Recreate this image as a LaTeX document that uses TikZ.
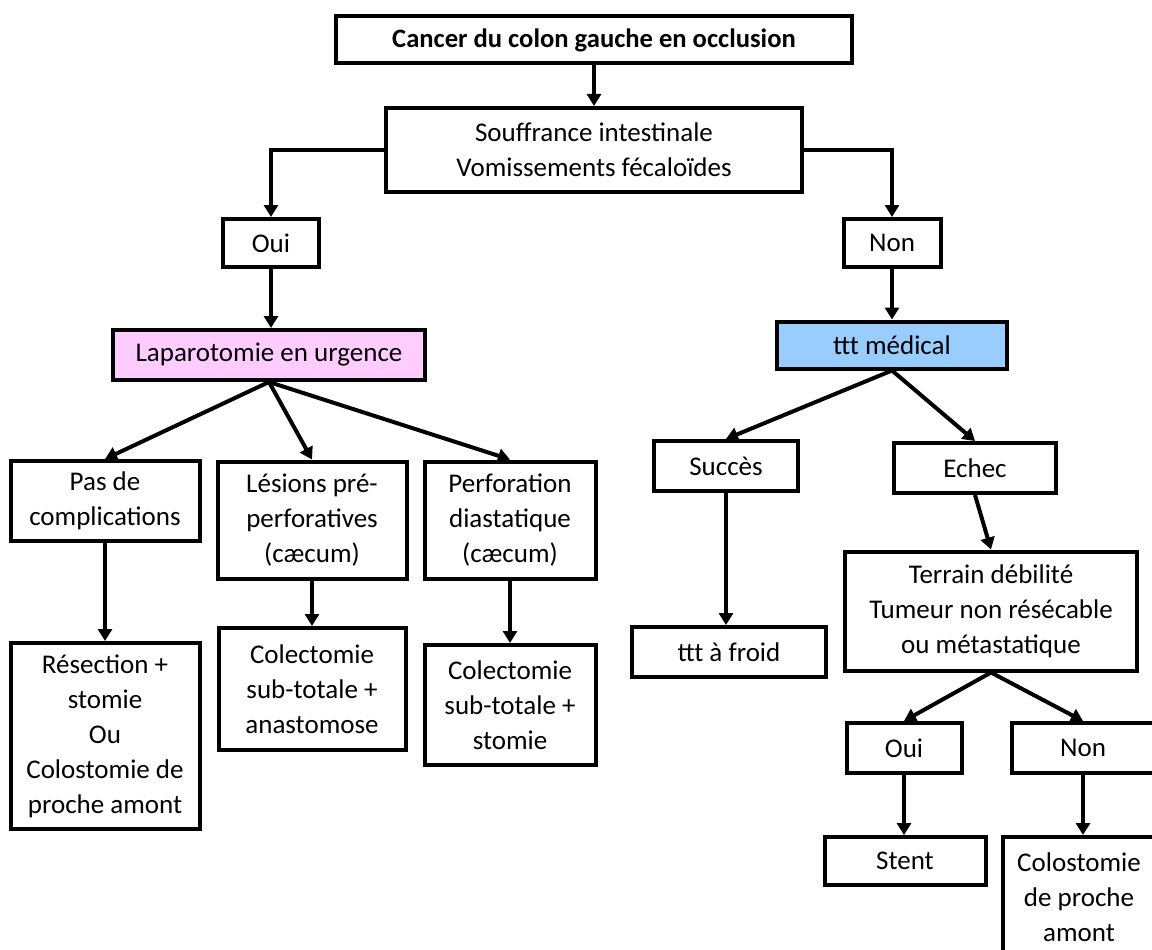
\documentclass[tikz,border=0pt]{standalone}
\usepackage{fontspec}
\setmainfont{Carlito}
\usetikzlibrary{arrows.meta}
\definecolor{pinkfill}{HTML}{FFCCFF}
\definecolor{bluefill}{HTML}{99CCFF}
\begin{document}
\begin{tikzpicture}[x=1pt,y=-1pt,
  box/.style={draw, line width=4pt, rectangle, inner sep=0pt, align=center,
    font=\fontsize{27}{35}\selectfont},
  conn/.style={line width=4pt, -{Triangle[length=12pt,width=14pt]}}]
\useasboundingbox (0,0) rectangle (1152,950);
\clip (0,0) rectangle (1152,950);
% nodes
\node[box, minimum width=516pt, minimum height=47pt, font=\fontsize{26.6}{33}\selectfont\bfseries] (top) at (594,40) {Cancer du colon gauche en occlusion};
\node[box, minimum width=416pt, minimum height=84pt] (souf) at (594,150) {Souffrance intestinale\\Vomissements fécaloïdes};
\node[box, minimum width=96pt, minimum height=48pt] (oui1) at (271,243) {Oui};
\node[box, minimum width=97pt, minimum height=48pt] (non1) at (892,243) {Non};
\node[box, fill=pinkfill, minimum width=312pt, minimum height=50pt] (lap) at (269,355) {Laparotomie en urgence};
\node[box, fill=bluefill, minimum width=230pt, minimum height=47pt] (med) at (892,345) {ttt médical};
\node[box, minimum width=189pt, minimum height=80pt] (pas) at (105,501) {Pas de\\complications};
\node[box, minimum width=189pt, minimum height=117pt] (les) at (312,520) {Lésions pré-\\perforatives\\(cæcum)};
\node[box, minimum width=171pt, minimum height=117pt] (perf) at (510,520) {Perforation\\diastatique\\(cæcum)};
\node[box, minimum width=189pt, minimum height=186pt] (res) at (105,736) {Résection +\\stomie\\Ou\\Colostomie de\\proche amont};
\node[box, minimum width=187pt, minimum height=122pt] (col1) at (312,689) {Colectomie\\sub-totale +\\anastomose};
\node[box, minimum width=171pt, minimum height=120pt] (col2) at (510,705) {Colectomie\\sub-totale +\\stomie};
\node[box, minimum width=144pt, minimum height=50pt] (succ) at (726,466) {Succès};
\node[box, minimum width=162pt, minimum height=50pt] (echec) at (975,468) {Echec};
\node[box, minimum width=194pt, minimum height=50pt] (froid) at (729,652) {ttt à froid};
\node[box, minimum width=292pt, minimum height=119pt] (terrain) at (991,611) {Terrain débilité\\Tumeur non résécable\\ou métastatique};
\node[box, minimum width=115pt, minimum height=50pt] (oui2) at (904,748) {Oui};
\node[box, minimum width=142pt, minimum height=50pt] (non2) at (1083,748) {Non};
\node[box, minimum width=161pt, minimum height=48pt] (stent) at (905,861) {Stent};
\node[box, minimum width=152pt, minimum height=120pt] (colo) at (1079,897) {Colostomie\\de proche\\amont};
% connectors
\draw[conn] (top) -- (souf);
\draw[conn] (souf.west) -| (oui1.north);
\draw[conn] (souf.east) -| (non1.north);
\draw[conn] (oui1.south) -- (oui1.south |- lap.north);
\draw[conn] (non1) -- (med);
\draw[conn] (lap.south) -- (pas.north);
\draw[conn] (lap.south) -- (les.north);
\draw[conn] (lap.south) -- (perf.north);
\draw[conn] (pas) -- (res);
\draw[conn] (les) -- (col1);
\draw[conn] (perf) -- (col2);
\draw[conn] (med.south) -- (succ.north);
\draw[conn] (med.south) -- (echec.north);
\draw[conn] (succ.south) -- (succ.south |- froid.north);
\draw[conn] (echec.south) -- (terrain.north);
\draw[conn] (terrain.south) -- (oui2.north);
\draw[conn] (terrain.south) -- (non2.north);
\draw[conn] (oui2.south) -- (oui2.south |- stent.north);
\draw[conn] (non2.south) -- (non2.south |- colo.north);
\end{tikzpicture}
\end{document}
